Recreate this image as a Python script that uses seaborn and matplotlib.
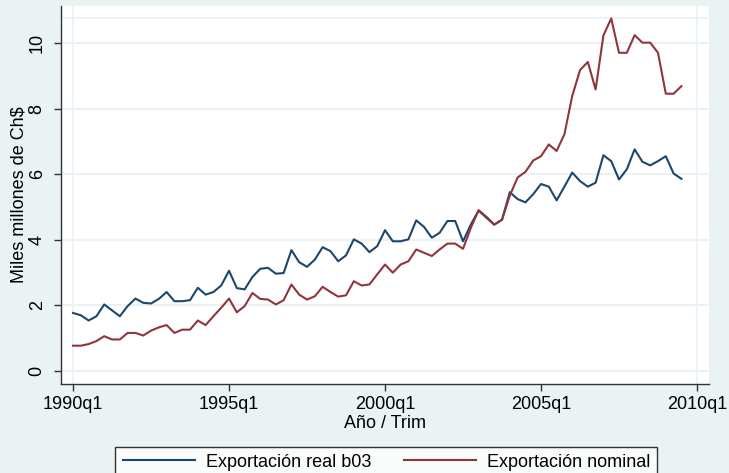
import numpy as np
import pandas as pd
import seaborn as sns
from matplotlib import pyplot as plt

# quarterly exports, 1990q1 .. 2009q3 (thousand millions Ch$)
real_b03 = [1.76, 1.69, 1.53, 1.66, 2.02, 1.84, 1.66, 1.97, 2.20, 2.07,
            2.05, 2.19, 2.40, 2.12, 2.12, 2.15, 2.53, 2.32, 2.40, 2.60,
            3.05, 2.52, 2.48, 2.86, 3.11, 3.14, 2.96, 2.98, 3.68, 3.31,
            3.17, 3.39, 3.77, 3.65, 3.34, 3.52, 4.01, 3.88, 3.62, 3.80,
            4.29, 3.95, 3.95, 4.01, 4.59, 4.39, 4.06, 4.21, 4.57, 4.57,
            3.95, 4.46, 4.89, 4.67, 4.46, 4.61, 5.45, 5.24, 5.14, 5.39,
            5.70, 5.62, 5.20, 5.62, 6.05, 5.79, 5.62, 5.74, 6.58, 6.40,
            5.84, 6.15, 6.76, 6.38, 6.27, 6.40, 6.55, 6.02, 5.86]
nominal = [0.76, 0.76, 0.81, 0.90, 1.05, 0.95, 0.95, 1.15, 1.15, 1.07,
           1.22, 1.32, 1.39, 1.15, 1.25, 1.25, 1.53, 1.39, 1.66, 1.92,
           2.20, 1.78, 1.97, 2.37, 2.19, 2.17, 2.02, 2.15, 2.63, 2.32,
           2.17, 2.27, 2.56, 2.40, 2.26, 2.30, 2.73, 2.60, 2.63, 2.94,
           3.24, 2.99, 3.24, 3.34, 3.70, 3.60, 3.50, 3.70, 3.88, 3.88,
           3.72, 4.36, 4.90, 4.70, 4.46, 4.61, 5.35, 5.90, 6.07, 6.42,
           6.55, 6.91, 6.71, 7.22, 8.39, 9.18, 9.43, 8.59, 10.24, 10.76,
           9.71, 9.71, 10.25, 10.02, 10.02, 9.71, 8.46, 8.46, 8.69]
xtick_pos = [0, 20, 40, 60, 80]
xtick_labels = ['1990q1', '1995q1', '2000q1', '2005q1', '2010q1']
yticks = [0, 2, 4, 6, 8, 10]
series_names = ['Exportación real b03', 'Exportación nominal']

quarter = np.arange(len(real_b03))
df = pd.concat([
    pd.DataFrame({'q': quarter, 'valor': real_b03, 'serie': series_names[0]}),
    pd.DataFrame({'q': quarter, 'valor': nominal, 'serie': series_names[1]}),
])

plt.rcParams['font.family'] = ['Liberation Sans', 'DejaVu Sans']
plt.rcParams['font.size'] = 13

bg = '#EAF2F3'
palette = {series_names[0]: '#1A476F', series_names[1]: '#90353B'}

fig = plt.figure(figsize=(7.29, 4.73), dpi=100, facecolor=bg)
ax = fig.add_axes([0.0837, 0.1882, 0.8889, 0.7991])
ax.set_facecolor('white')

# stata-like grid and inner plot region
for y in yticks:
    ax.axhline(y, color=bg, lw=1.5, zorder=0)
top = max(nominal)
ax.axhline(top, color=bg, lw=1.2, zorder=0)
ax.axvline(xtick_pos[0], color=bg, lw=1.2, zorder=0)
ax.axvline(xtick_pos[-1], color=bg, lw=1.2, zorder=0)

sns.lineplot(data=df, x='q', y='valor', hue='serie', palette=palette,
             linewidth=1.5, ax=ax, legend=False)

ax.set_xlim(-1.54, 81.54)
ax.set_ylim(-0.41, 11.14)
ax.set_xticks(xtick_pos)
ax.set_xticklabels(xtick_labels)
ax.set_yticks(yticks)
ax.set_yticklabels([str(t) for t in yticks], rotation=90, va='center')
ax.tick_params(axis='both', length=5, width=1, color='#333333', labelsize=13)
ax.tick_params(axis='y', pad=6)
ax.tick_params(axis='x', pad=4)

for side in ['top', 'right']:
    ax.spines[side].set_visible(False)
for side in ['left', 'bottom']:
    ax.spines[side].set_color('#333333')
    ax.spines[side].set_linewidth(1)

ax.set_xlabel('Año / Trim', fontsize=13, labelpad=1)
ax.set_ylabel('Miles millones de Ch$', fontsize=13, labelpad=1)

handles = [plt.Line2D([], [], color=palette[s], lw=1.5) for s in series_names]
leg = fig.legend(handles, series_names, loc='upper center',
                 bbox_to_anchor=(0.530, 0.075), ncol=2, fontsize=13,
                 frameon=True, fancybox=False, edgecolor='black',
                 handlelength=4.0, handletextpad=0.6, columnspacing=1.8,
                 borderpad=0.4)
leg.get_frame().set_linewidth(1)
leg.get_frame().set_facecolor('white')

plt.savefig('out.png', dpi=100, facecolor=bg)
